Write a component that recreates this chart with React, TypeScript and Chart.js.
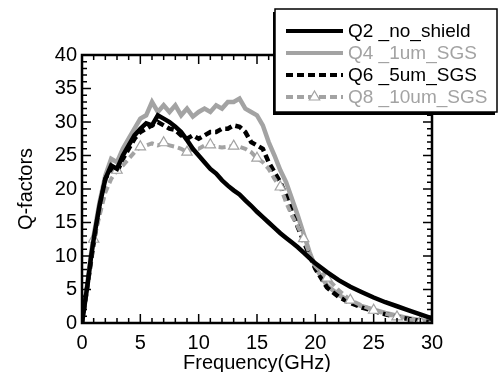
import React, { useEffect, useRef } from "react";
import { Chart, registerables } from "chart.js";

Chart.register(...registerables);

const freq = [0, 0.25, 0.5, 0.75, 1, 1.5, 2, 2.5, 3, 3.5, 4, 4.5, 5, 5.5, 6, 6.5, 7, 7.5, 8, 8.5, 9, 9.5, 10, 10.5, 11, 11.5, 12, 12.5, 13, 13.5, 14, 14.5, 15, 15.5, 16, 16.5, 17, 17.5, 18, 18.5, 19, 19.5, 20, 21, 22, 23, 24, 25, 26, 27, 28, 29, 30];

const q2NoShield = [0, 3, 6, 9.5, 12.5, 17.5, 21.5, 23.5, 23, 25, 26.5, 28, 29, 29.8, 29.5, 31, 30.5, 30, 29.3, 28.5, 27.3, 26, 25, 24, 23, 22.3, 21.3, 20.5, 19.8, 19.2, 18.3, 17.5, 16.6, 15.8, 15, 14.2, 13.4, 12.7, 12, 11.3, 10.5, 9.7, 8.9, 7.6, 6.4, 5.4, 4.6, 3.8, 3.1, 2.5, 1.9, 1.3, 0.7];

const q4Sgs1 = [0, 3.5, 6.5, 10, 13, 18, 22, 24.5, 24, 26, 27.5, 29, 30.5, 31, 33, 31.5, 32.5, 31.5, 32.5, 31, 32, 30.8, 31.5, 32, 31.5, 32.5, 32, 33, 33, 33.5, 32, 31.5, 31, 29.5, 27, 25, 22.8, 21, 18.5, 16, 13.3, 10.6, 8.3, 5.6, 4.2, 3.2, 2.5, 2, 1.5, 1.1, 0.7, 0.4, 0.2];

const q6Sgs5 = [0, 3, 6, 9, 12, 17, 21.5, 23, 22.5, 24.5, 26, 27.5, 28.5, 29, 29.5, 30, 29.5, 29, 28.8, 28, 27.5, 28, 27.5, 28, 28.5, 28.5, 29, 29, 29.5, 29.3, 28.5, 27, 26.5, 26, 24, 22.5, 21, 19, 16.5, 14.3, 12.2, 10.1, 8.1, 5.3, 3.9, 3, 2.3, 1.8, 1.3, 0.9, 0.6, 0.3, 0.1];

const q8Sgs10 = [0, 3, 6, 9.5, 12.5, 16, 19.5, 21.5, 22.8, 23.5, 24.5, 25.5, 26.3, 26.5, 26.8, 26.5, 26.9, 26.5, 26.3, 26, 25.5, 26, 26, 26.5, 26.6, 26.3, 26.2, 26.3, 26.4, 26.3, 26, 25.5, 24.6, 24, 23, 21.5, 20.3, 18, 16, 14.4, 12.6, 10.4, 8.5, 6.7, 4.9, 3.4, 2.6, 1.9, 1.4, 0.9, 0.5, 0.2, 0];

const triangleFreqs = [1, 3, 5, 7, 9, 11, 13, 15, 17, 19, 21, 23, 25, 27, 29];

const xTicks = [0, 5, 10, 15, 20, 25, 30];
const yTicks = [0, 5, 10, 15, 20, 25, 30, 35, 40];

const seriesLabels = ["Q2 _no_shield", "Q4 _1um_SGS", "Q6 _5um_SGS", "Q8 _10um_SGS"];

const BLACK = "#000000";
const GREY = "#a3a3a3";
const FONT = "'Liberation Sans', Arial, sans-serif";
const FS = 20;
const LEGEND_FS = 19;

const framePlugin = {
  id: "frameTicks",
  afterDraw(chart: any) {
    const { ctx, chartArea, scales } = chart;
    const { left, right, top, bottom } = chartArea;
    const xs = scales.x;
    const ys = scales.y;
    ctx.save();
    ctx.strokeStyle = BLACK;
    ctx.lineWidth = 1.5;
    for (let v = 0; v <= 30; v++) {
      const px = xs.getPixelForValue(v);
      const len = v % 5 === 0 ? 9 : 5;
      ctx.beginPath();
      ctx.moveTo(px, bottom);
      ctx.lineTo(px, bottom - len);
      ctx.moveTo(px, top);
      ctx.lineTo(px, top + len);
      ctx.stroke();
    }
    for (let v = 0; v <= 40; v++) {
      const py = ys.getPixelForValue(v);
      const len = v % 5 === 0 ? 9 : 5;
      ctx.beginPath();
      ctx.moveTo(left, py);
      ctx.lineTo(left + len, py);
      ctx.moveTo(right, py);
      ctx.lineTo(right - len, py);
      ctx.stroke();
    }
    ctx.lineWidth = 2.5;
    ctx.strokeRect(left, top, right - left, bottom - top);

    // legend
    const lx = 275, ly = 9, lw = 222, lh = 103;
    ctx.fillStyle = BLACK;
    ctx.fillRect(lx - 2, ly + 3, lw, lh);
    ctx.fillStyle = "#ffffff";
    ctx.fillRect(lx, ly, lw, lh);
    ctx.lineWidth = 1.5;
    ctx.strokeStyle = BLACK;
    ctx.strokeRect(lx, ly, lw, lh);

    const rows = [31, 53, 75, 97];
    const colors = [BLACK, GREY, BLACK, GREY];
    const dashed = [false, false, true, true];
    ctx.font = `${LEGEND_FS}px ${FONT}`;
    ctx.textBaseline = "middle";
    ctx.textAlign = "left";
    for (let i = 0; i < 4; i++) {
      const y = rows[i];
      ctx.strokeStyle = colors[i];
      ctx.lineWidth = 4;
      ctx.setLineDash(dashed[i] ? [7, 4] : []);
      ctx.beginPath();
      ctx.moveTo(286, y);
      ctx.lineTo(343, y);
      ctx.stroke();
      ctx.setLineDash([]);
      if (i === 3) {
        const cx = 314.5, r = 6;
        ctx.fillStyle = "#ffffff";
        ctx.strokeStyle = GREY;
        ctx.lineWidth = 1.2;
        ctx.beginPath();
        ctx.moveTo(cx, y - r);
        ctx.lineTo(cx + r * 0.87, y + r * 0.5);
        ctx.lineTo(cx - r * 0.87, y + r * 0.5);
        ctx.closePath();
        ctx.fill();
        ctx.stroke();
      }
      ctx.fillStyle = colors[i];
      ctx.fillText(seriesLabels[i], 348, y + 1);
    }
    ctx.restore();
  },
};

function toPoints(ys: number[]) {
  return freq.map((f, i) => ({ x: f, y: ys[i] }));
}

export default function App() {
  const ref = useRef<HTMLCanvasElement | null>(null);
  useEffect(() => {
    document.body.style.margin = "0";
    const canvas = ref.current!;
    const chart = new Chart(canvas, {
      type: "line",
      data: {
        datasets: [
          {
            label: seriesLabels[0],
            data: toPoints(q2NoShield),
            borderColor: BLACK,
            borderWidth: 4.5,
            pointRadius: 0,
            tension: 0,
          },
          {
            label: seriesLabels[3],
            data: toPoints(q8Sgs10),
            borderColor: GREY,
            borderWidth: 4,
            borderDash: [7, 4],
            pointStyle: "triangle",
            pointRadius: (c: any) => (triangleFreqs.includes(freq[c.dataIndex]) ? 6 : 0),
            pointBackgroundColor: "#ffffff",
            pointBorderColor: GREY,
            pointBorderWidth: 1.2,
            tension: 0,
          },
          {
            label: seriesLabels[2],
            data: toPoints(q6Sgs5),
            borderColor: BLACK,
            borderWidth: 4.5,
            borderDash: [7, 4],
            pointRadius: 0,
            tension: 0,
          },
          {
            label: seriesLabels[1],
            data: toPoints(q4Sgs1),
            borderColor: GREY,
            borderWidth: 4.5,
            pointRadius: 0,
            tension: 0,
          },
        ],
      },
      options: {
        animation: false,
        responsive: false,
        maintainAspectRatio: false,
        layout: { padding: { left: 0, top: 55, right: 66, bottom: 0 } },
        plugins: { legend: { display: false }, tooltip: { enabled: false } },
        scales: {
          x: {
            type: "linear",
            min: 0,
            max: 30,
            afterFit: (s: any) => {
              s.height = 49;
            },
            afterBuildTicks: (s: any) => {
              s.ticks = xTicks.map((v) => ({ value: v }));
            },
            ticks: { color: BLACK, font: { size: FS, family: FONT }, padding: 8, maxRotation: 0 },
            grid: { display: false, drawTicks: false },
            border: { display: false },
            title: {
              display: true,
              text: "Frequency(GHz)",
              color: BLACK,
              font: { size: FS, family: FONT, lineHeight: 1 },
              padding: { top: 0, bottom: -1.5 },
            },
          },
          y: {
            type: "linear",
            min: 0,
            max: 40,
            afterFit: (s: any) => {
              s.width = 82;
            },
            afterBuildTicks: (s: any) => {
              s.ticks = yTicks.map((v) => ({ value: v }));
            },
            ticks: { color: BLACK, font: { size: FS, family: FONT }, padding: 5 },
            grid: { display: false, drawTicks: false },
            border: { display: false },
            title: {
              display: true,
              text: "Q-factors",
              color: BLACK,
              font: { size: FS, family: FONT, lineHeight: 1 },
              padding: { top: 16, bottom: 0 },
            },
          },
        },
      },
      plugins: [framePlugin],
    });
    return () => chart.destroy();
  }, []);
  return <canvas ref={ref} width={498} height={372} style={{ display: "block" }} />;
}
